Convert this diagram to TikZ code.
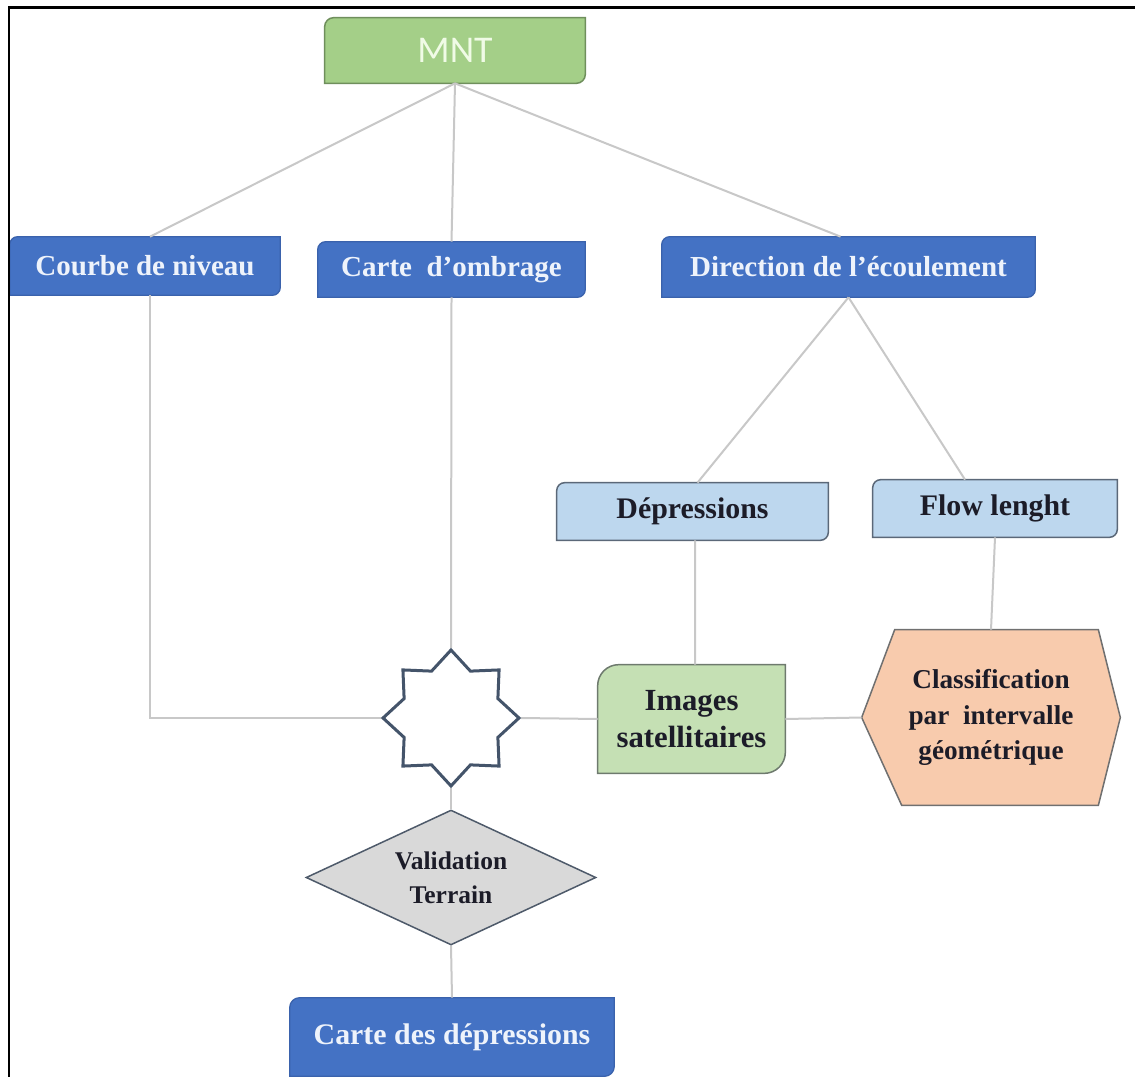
\documentclass[tikz,border=0pt]{standalone}
\usepackage{fontspec}
\setmainfont{Liberation Serif}
\newfontfamily\calib{Carlito}
\usetikzlibrary{shapes.geometric,backgrounds}
\definecolor{mntfill}{HTML}{A4CF88}
\definecolor{mntdraw}{HTML}{6F8F5C}
\definecolor{mnttext}{HTML}{F0FBE6}
\definecolor{bluefill}{HTML}{4472C4}
\definecolor{bluedraw}{HTML}{3A62AC}
\definecolor{bluetext}{HTML}{EEF3FB}
\definecolor{lbfill}{HTML}{BDD7EE}
\definecolor{lbdraw}{HTML}{5B6878}
\definecolor{imgfill}{HTML}{C5E0B4}
\definecolor{imgdraw}{HTML}{6E7A6E}
\definecolor{hexfill}{HTML}{F8CBAD}
\definecolor{hexdraw}{HTML}{707070}
\definecolor{diafill}{HTML}{D9D9D9}
\definecolor{diadraw}{HTML}{4E5A6A}
\definecolor{stardraw}{HTML}{44546A}
\definecolor{connc}{HTML}{C8C8C8}
\definecolor{darktext}{HTML}{1C1C28}
\newcommand{\diagshape}[3]{%
  \begin{scope}[on background layer]
  \filldraw[#3] ([yshift=-#2]#1.north west) arc[start angle=180,end angle=90,radius=#2]
    -- (#1.north east) -- ([yshift=#2]#1.south east) arc[start angle=0,end angle=-90,radius=#2]
    -- (#1.south west) -- cycle;
  \end{scope}}
\tikzset{
  txtbox/.style={inner sep=0pt, align=center},
  bluetxt/.style={txtbox, text=bluetext, font=\fontsize{16.5}{20}\selectfont\bfseries},
  darktxt/.style={txtbox, text=darktext, font=\fontsize{17}{20}\selectfont\bfseries},
  blueshape/.style={fill=bluefill, draw=bluedraw, line width=0.025cm},
  lbshape/.style={fill=lbfill, draw=lbdraw, line width=0.03cm},
  conn/.style={draw=connc, line width=0.04cm},
}
\begin{document}
\begin{tikzpicture}[x=0.02cm,y=0.02cm]
\useasboundingbox (0,0) rectangle (1135,-1077);
\begin{scope}[on background layer]
\fill[white] (0,0) rectangle (1135,-1077);
\end{scope}

% nodes
\node[txtbox, minimum width=5.2cm, minimum height=1.3cm, text=mnttext,
      font=\calib\fontsize{21.5}{24}\selectfont] (mnt) at (455,-50.5) {MNT};
\node[bluetxt, minimum width=5.4cm, minimum height=1.16cm] (courbe) at (145,-266) {Courbe de niveau};
\node[bluetxt, minimum width=5.34cm, minimum height=1.1cm] (ombr) at (451.5,-269.5) {Carte\ \ d’ombrage};
\node[bluetxt, minimum width=7.46cm, minimum height=1.2cm] (dir) at (848.5,-267) {Direction de l’écoulement};
\node[darktxt, minimum width=5.42cm, minimum height=1.14cm] (depr) at (692.5,-511.5) {Dépressions};
\node[darktxt, minimum width=4.88cm, minimum height=1.14cm] (flow) at (995,-508.5) {Flow lenght};
\node[star, star points=8, star point ratio=1.34, minimum size=2.72cm, inner sep=0pt,
      draw=stardraw, line width=0.06cm, fill=white] (st) at (451,-718) {};
\node[darktxt, font=\fontsize{17.5}{21.5}\selectfont\bfseries, minimum width=3.74cm, minimum height=2.16cm] (img) at (691.5,-719) {Images\\satellitaires};
\node[darktxt, font=\fontsize{15.5}{20.4}\selectfont\bfseries, minimum width=5.16cm, minimum height=3.5cm] (hex) at (991,-717.5) {Classification\\par\ \ intervalle\\géométrique};
\node[diamond, aspect=2.15, draw=diadraw, fill=diafill, line width=0.03cm, inner sep=0pt,
      minimum width=5.8cm, minimum height=2.7cm, align=center, text=darktext,
      font=\fontsize{14.5}{19.3}\selectfont\bfseries] (dia) at (451,-877.5) {Validation\\Terrain};
\node[bluetxt, font=\fontsize{17}{20}\selectfont\bfseries, minimum width=6.48cm, minimum height=1.56cm] (fin) at (452,-1037) {Carte des dépressions};

% shapes
\diagshape{mnt}{0.18cm}{fill=mntfill, draw=mntdraw, line width=0.03cm}
\diagshape{courbe}{0.16cm}{blueshape}
\diagshape{ombr}{0.16cm}{blueshape}
\diagshape{dir}{0.16cm}{blueshape}
\diagshape{fin}{0.2cm}{blueshape}
\diagshape{depr}{0.16cm}{lbshape}
\diagshape{flow}{0.16cm}{lbshape}
\diagshape{img}{0.42cm}{fill=imgfill, draw=imgdraw, line width=0.03cm}
\begin{scope}[on background layer]
\filldraw[fill=hexfill, draw=hexdraw, line width=0.03cm]
  (hex.west) -- ([xshift=0.66cm]hex.north west) -- ([xshift=-0.44cm]hex.north east)
  -- (hex.east) -- ([xshift=-0.44cm]hex.south east) -- ([xshift=0.8cm]hex.south west) -- cycle;
% connectors
\draw[conn] (mnt.south) -- ([xshift=0.1cm]courbe.north);
\draw[conn] (mnt.south) -- (ombr.north);
\draw[conn] (mnt.south) -- ([xshift=-0.16cm]dir.north);
\draw[conn] ([xshift=0.1cm]courbe.south) |- (st.west);
\draw[conn] (ombr.south) -- (st.north);
\draw[conn] (dir.south) -- ([xshift=0.1cm]depr.north);
\draw[conn] (dir.south) -- ([xshift=-0.6cm]flow.north);
\draw[conn] ([xshift=0.05cm]depr.south) -- ([xshift=0.07cm]img.north);
\draw[conn] (flow.south) -- (hex.north);
\draw[conn] (st.east) -- (img.west);
\draw[conn] (img.east) -- (hex.west);
\draw[conn] (st.south) -- (dia.north);
\draw[conn] (dia.south) -- (fin.north);
\end{scope}

% frame
\draw[black, line width=0.06cm] (9,-1077) -- (9,-7.8) -- (1135,-7.8);
\end{tikzpicture}
\end{document}
